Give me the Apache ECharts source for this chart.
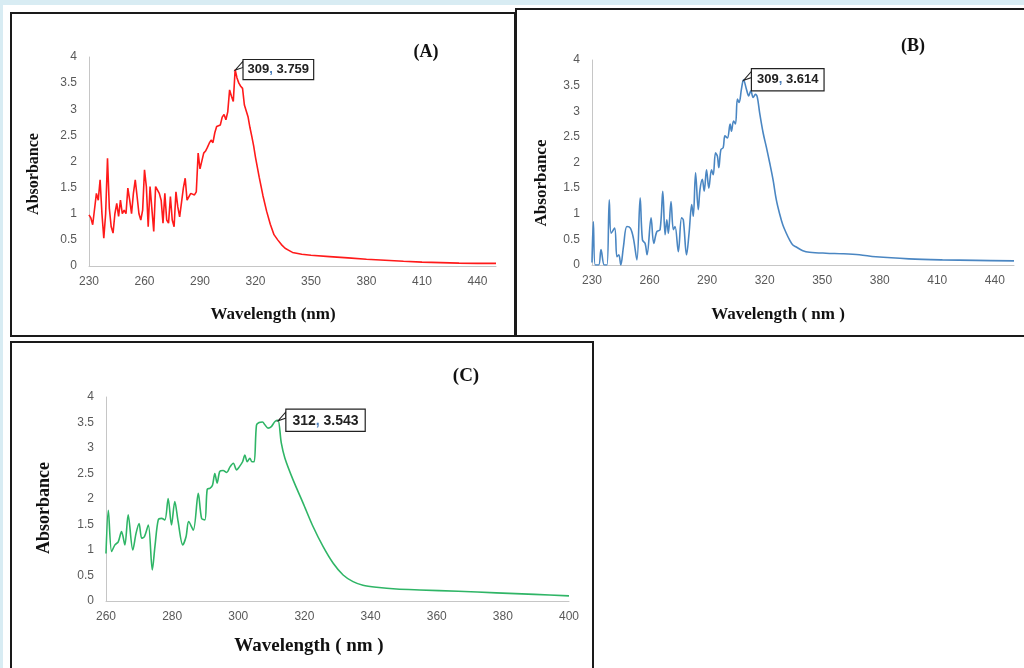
<!DOCTYPE html>
<html><head><meta charset="utf-8">
<script src="https://cdn.jsdelivr.net/npm/echarts@6/dist/echarts.min.js"></script>
<style>html,body{margin:0;padding:0;background:#fff;}#c{width:1024px;height:668px;}</style>
</head><body><div id="c"></div>
<script>
// ---------- Data ----------
const aWave = [230,231,232,233,234,235,236,237,238,239,240,241,242,243,244,245,246,247,248,249,250,251,252,253,254,255,256,257,258,259,260,261,262,263,264,265,266,267,268,269,270,271,272,273,274,275,276,277,278,279,280,281,282,283,284,285,286,287,288,289,290,291,292,293,294,295,296,297,298,299,300,301,302,303,304,305,306,307,308,309,310,311,312,313,314,315,316,317,318,319,320,322,324,326,328,330,332,334,336,338,340,345,350,360,370,380,390,400,410,420,430,440,450];
const aAbs = [0.98,0.92,0.79,0.79,1.39,1.26,1.65,1.0,0.53,1.0,2.06,1.1,0.75,0.63,1.0,1.2,0.95,1.26,1.0,1.07,1.0,1.49,1.26,1.0,1.39,1.65,1.33,1.0,0.88,1.07,1.84,1.52,0.75,1.52,1.52,0.66,1.52,1.55,1.39,1.26,0.82,1.39,0.88,0.82,1.33,0.88,0.75,1.42,1.13,0.94,0.97,1.49,1.68,1.26,1.26,1.39,1.39,1.36,1.42,2.16,1.86,1.85,2.16,2.2,2.27,2.35,2.41,2.36,2.55,2.67,2.67,2.7,2.85,2.9,2.8,2.95,3.37,3.25,3.15,3.759,3.6,3.5,3.44,3.4,3.08,3.05,2.85,2.65,2.48,2.3,2.08,1.7,1.35,1.05,0.8,0.6,0.5,0.41,0.34,0.3,0.26,0.225,0.205,0.18,0.155,0.13,0.11,0.09,0.075,0.065,0.055,0.05,0.05];

const bWave = [230,230.7,231.7,233.5,234.7,236.4,237.8,239,240,241.8,243,244,245,246.4,248.2,250,251.6,253.4,255.1,256.3,257.7,258.7,260.8,262.2,263.8,265.5,266.9,268.1,269,269.8,271.2,272.4,273.3,275,276.7,277.6,279.3,280.6,282,282.8,284,285.4,286.3,287.5,288.5,289.7,290.9,292.3,293.2,294.4,295.4,296.1,297.2,298.4,299.3,300.6,302,302.7,303.8,304.8,305.8,306.7,307.9,309,310.5,311.7,312.8,314,315.2,316.2,317.4,319.2,320.9,322.6,324.4,326.1,327.8,329.5,331.3,333,334.7,336.5,339.9,343.4,352,360.7,369.4,378,395.3,412.7,430,450];
const bAbs = [0.05,0.85,0.0,0.0,0.3,0.0,0.0,1.27,0.62,0.72,0.16,0.2,0.0,0.36,0.75,0.72,0.52,0.1,1.31,0.49,0.42,0.2,0.92,0.42,0.65,0.69,1.44,0.59,0.88,0.62,1.24,0.69,0.75,0.26,0.92,0.88,0.2,0.62,1.18,0.95,1.8,1.08,1.47,1.67,1.44,1.86,1.5,1.86,1.76,2.19,2.12,1.9,2.25,2.29,2.52,2.48,2.75,2.61,2.81,2.75,3.24,3.17,3.43,3.614,3.43,3.3,3.4,3.27,3.33,3.27,2.97,2.58,2.3,2.0,1.66,1.27,1.0,0.78,0.62,0.49,0.39,0.35,0.28,0.25,0.23,0.22,0.2,0.16,0.12,0.1,0.09,0.08];

const cWave = [260,260.7,261.7,262.7,263.7,264.7,265.7,266.7,268.1,269.1,270,270.8,271.6,272.8,274,274.8,275.8,276.8,277.8,278.8,279.8,280.8,281.8,283.2,284.2,285,286.4,287.9,288.9,289.9,290.6,291.4,292.2,292.9,293.6,294.4,295.4,296.5,297.5,298.5,299.5,300.3,301.3,302,302.7,303.5,304.1,304.8,305.5,306.3,307.3,308.1,309,310,311.1,312,313,314.1,316.6,319.6,322.6,325.7,328.7,331.7,334.7,337.7,341.8,347.8,354.9,366.5,378,389.6,400];
const cAbs = [0.93,1.78,0.97,1.1,1.16,1.36,1.1,1.69,1.0,1.33,1.52,1.23,1.26,1.49,0.61,1.07,1.59,1.62,1.59,2.01,1.49,1.95,1.56,1.1,1.26,1.56,1.39,2.11,1.62,1.59,2.19,2.21,2.27,2.5,2.31,2.54,2.56,2.52,2.63,2.7,2.57,2.63,2.73,2.86,2.73,2.8,2.73,2.73,3.45,3.5,3.51,3.45,3.39,3.42,3.52,3.543,3.1,2.8,2.37,1.92,1.46,1.06,0.74,0.51,0.38,0.31,0.27,0.235,0.216,0.19,0.16,0.13,0.1];

const peakA = [309, 3.759];
const peakB = [309, 3.614];
const peakC = [312, 3.543];

const xTicksAB = {min:230, max:450, interval:30};
const xTicksC = {min:260, max:400, interval:20};
const yTicks = {min:0, max:4, interval:0.5};

// ---------- Chart ----------
const chart = echarts.init(document.getElementById('c'), null, {renderer:'canvas'});
const labelColor = '#595959';
const axisColor = '#c6c6c6';
const serif = '"Liberation Serif","DejaVu Serif",serif';
const sans = '"Liberation Sans",Arial,sans-serif';

function pairs(xs, ys){ return xs.map((x,i)=>[x, ys[i]]); }

function xAxis(idx, t){
  return {gridIndex:idx, type:'value', min:t.min, max:t.max, interval:t.interval,
    axisLine:{show:true, onZero:false, lineStyle:{color:axisColor, width:1}},
    axisTick:{show:false}, splitLine:{show:false},
    axisLabel:{color:labelColor, fontSize:12, fontFamily:sans, margin:10, showMaxLabel: (t.max - t.min) % t.interval === 0}};
}
function yAxis(idx){
  return {gridIndex:idx, type:'value', min:yTicks.min, max:yTicks.max, interval:yTicks.interval,
    axisLine:{show:true, lineStyle:{color:axisColor, width:1}},
    axisTick:{show:false}, splitLine:{show:false},
    axisLabel:{color:labelColor, fontSize:12, fontFamily:sans, margin:12}};
}
function callout(peak, fs, pad){
  return {
    silent:true,
    symbol:'path://M0,10L9,0L9,7Z', symbolSize:[8,9], symbolOffset:[4,-4],
    itemStyle:{color:'#fff', borderColor:'#222', borderWidth:1},
    label:{show:true, position:'right', distance:0, offset:[0,4],
      formatter: () => '{b|' + peak[0] + '}{c|, }{b|' + peak[1] + '}',
      backgroundColor:'#fff', borderColor:'#222', borderWidth:1.2, padding:pad,
      rich:{ b:{fontFamily:sans, fontWeight:'bold', fontSize:fs, color:'#222'},
             c:{fontFamily:sans, fontWeight:'bold', fontSize:fs, color:'#4a7ebb'} }},
    data:[{coord:peak}]
  };
}
function line(idx, data, color, smooth, peak, fs, pad){
  return {type:'line', xAxisIndex:idx, yAxisIndex:idx, data:data, showSymbol:false, symbol:'none',
    smooth:smooth, lineStyle:{color:color, width:1.6}, itemStyle:{color:color},
    silent:true, animation:false, markPoint:callout(peak, fs, pad)};
}

function txt(x, y, s, size, rot){
  return {type:'text', x:x, y:y, rotation: rot || 0, z:10,
    style:{text:s, fill:'#111', font:'bold ' + size + 'px ' + serif, textAlign:'center', textVerticalAlign:'middle'}};
}
function box(x, y, w, h){
  return {type:'rect', shape:{x:x, y:y, width:w, height:h}, z:5,
    style:{fill:'none', stroke:'#1a1a1a', lineWidth:2}};
}

const option = {
  backgroundColor:'#fff',
  animation:false,
  grid:[
    {left:89, top:57, width:407, height:209},
    {left:592, top:60, width:422, height:205},
    {left:106, top:397, width:463, height:204}
  ],
  xAxis:[xAxis(0, xTicksAB), xAxis(1, xTicksAB), xAxis(2, xTicksC)],
  yAxis:[yAxis(0), yAxis(1), yAxis(2)],
  series:[
    line(0, pairs(aWave, aAbs), '#ff1a1a', false, peakA, 13, [3,4,3,4]),
    line(1, pairs(bWave, bAbs), '#4a86c2', 0.35, peakB, 13, [4,5,4,5]),
    line(2, pairs(cWave, cAbs), '#2fb566', 0.3, peakC, 14, [4,6,3,6])
  ],
  graphic:[
    {type:'rect', shape:{x:0, y:0, width:1024, height:5}, style:{fill:'#d8ecf3'}, z:1},
    {type:'rect', shape:{x:0, y:0, width:3, height:668}, style:{fill:'#d8ecf3'}, z:1},
    box(11, 13, 504, 323),
    box(516, 9, 520, 327),
    box(11, 342, 582, 340),
    txt(426, 52, '(A)', 18),
    txt(913, 46, '(B)', 18),
    txt(466, 376, '(C)', 19),
    txt(273, 315, 'Wavelength (nm)', 17),
    txt(778, 315, 'Wavelength ( nm )', 17),
    txt(309, 646, 'Wavelength ( nm )', 19),
    txt(34, 174, 'Absorbance', 16, Math.PI/2),
    txt(542, 183, 'Absorbance', 17, Math.PI/2),
    txt(44, 508, 'Absorbance', 18, Math.PI/2)
  ]
};
chart.setOption(option);
</script></body></html>
